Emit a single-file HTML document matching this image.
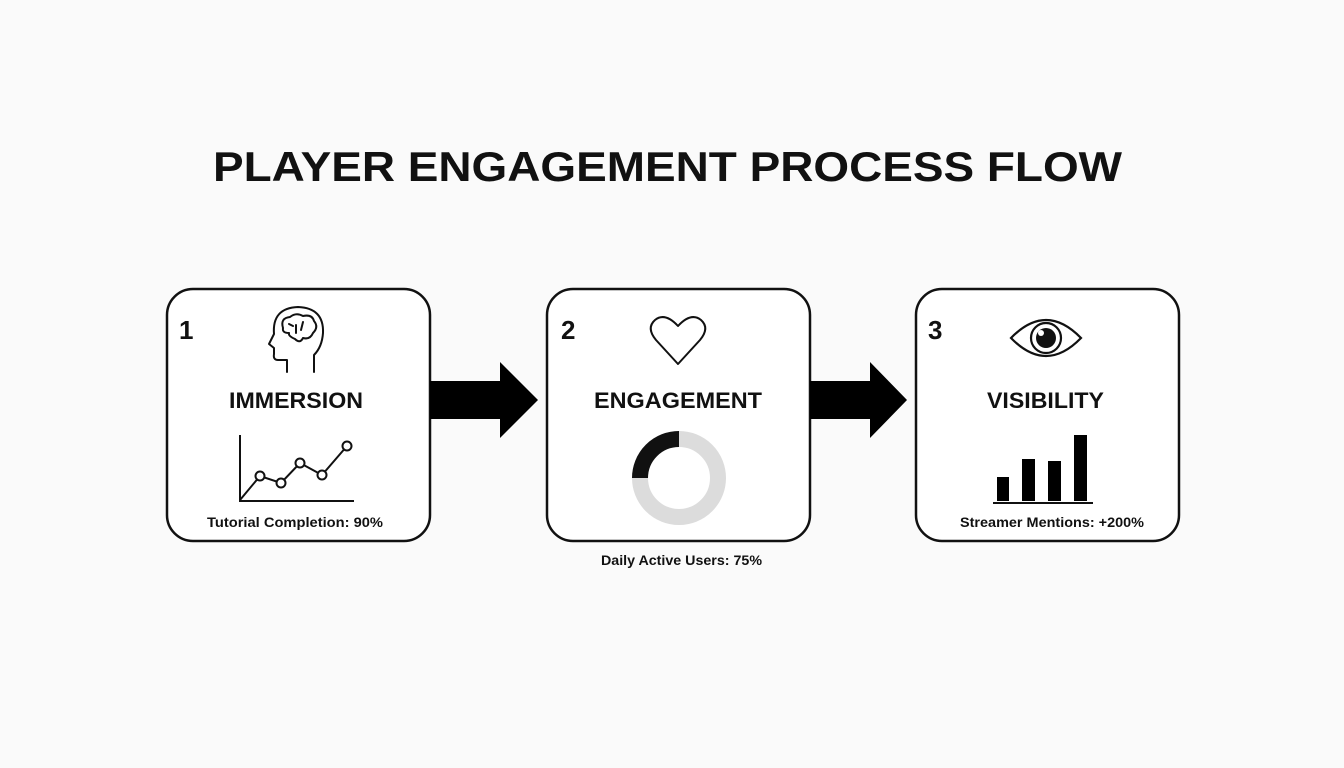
<!DOCTYPE html>
<html><head><meta charset="utf-8"><style>
html,body{margin:0;padding:0;background:#fafafa;}
svg{display:block}
text{font-family:"Liberation Sans",Arial,sans-serif;font-weight:bold;fill:#111}
</style></head><body>
<svg width="1344" height="768" viewBox="0 0 1344 768" xmlns="http://www.w3.org/2000/svg">
<rect width="1344" height="768" fill="#fafafa"/>
<text x="213" y="181" font-size="42" textLength="909" lengthAdjust="spacingAndGlyphs">PLAYER ENGAGEMENT PROCESS FLOW</text>

<g fill="#fff" stroke="#111" stroke-width="2.5">
<rect x="167" y="289" width="263" height="252" rx="26"/>
<rect x="547" y="289" width="263" height="252" rx="26"/>
<rect x="916" y="289" width="263" height="252" rx="26"/>
</g>

<polygon points="430,381 500,381 500,362 538,400 500,438 500,419 430,419" fill="#000"/>
<polygon points="810,381 870,381 870,362 907,400 870,438 870,419 810,419" fill="#000"/>

<text x="179" y="339" font-size="26">1</text>
<text x="561" y="339" font-size="26">2</text>
<text x="928" y="339" font-size="26">3</text>

<text x="229" y="408" font-size="22" textLength="134" lengthAdjust="spacingAndGlyphs">IMMERSION</text>
<text x="594" y="408" font-size="22" textLength="168" lengthAdjust="spacingAndGlyphs">ENGAGEMENT</text>
<text x="987" y="408" font-size="22" textLength="117" lengthAdjust="spacingAndGlyphs">VISIBILITY</text>

<g fill="none" stroke="#111" stroke-width="2" stroke-linejoin="round" stroke-linecap="round">
<path d="M287,372 L287,360 L278,360 Q273,360 274,354 L274,348 L269,344 L274,334 Q272,308 298,307 Q324,308 323,333 Q322,347 314,355 L314,372"/>
<path d="M283,328 Q280,318 290,317 Q296,312 303,316 Q312,314 314,321 Q319,327 313,333 Q310,340 303,338 Q300,344 295,339 Q288,336 289,333 Q282,333 283,328 Z"/>
<path d="M296,325 L296,333 M303,322 L301,330 M289,324 L293,326"/>
</g>

<g stroke="#111" stroke-width="2" fill="none">
<path d="M240,435 L240,501 L354,501"/>
<polyline points="240,500 260,476 281,483 300,463 322,475 347,446"/>
</g>
<g fill="#fff" stroke="#111" stroke-width="2">
<circle cx="260" cy="476" r="4.5"/><circle cx="281" cy="483" r="4.5"/><circle cx="300" cy="463" r="4.5"/><circle cx="322" cy="475" r="4.5"/><circle cx="347" cy="446" r="4.5"/>
</g>
<text x="207" y="527" font-size="13.5" textLength="176" lengthAdjust="spacingAndGlyphs">Tutorial Completion: 90%</text>

<path d="M678,364 L656,340 Q646,328 655,320 Q665,312 678,326 Q691,312 701,320 Q710,328 700,340 Z" fill="none" stroke="#111" stroke-width="2" stroke-linejoin="round"/>

<circle cx="679" cy="478" r="39" fill="none" stroke="#dcdcdc" stroke-width="16"/>
<path d="M679,439 A39,39 0 0 0 640,478" fill="none" stroke="#111" stroke-width="16"/>
<text x="601" y="565" font-size="13.5" textLength="161" lengthAdjust="spacingAndGlyphs">Daily Active Users: 75%</text>

<path d="M1011,338 Q1046,302 1081,338 Q1046,374 1011,338 Z" fill="none" stroke="#111" stroke-width="2.2"/>
<circle cx="1046" cy="338" r="15" fill="none" stroke="#111" stroke-width="2.2"/>
<circle cx="1046" cy="338" r="10" fill="#111"/>
<circle cx="1041" cy="333" r="3" fill="#fff"/>

<g fill="#000">
<rect x="997" y="477" width="12" height="24"/>
<rect x="1022" y="459" width="13" height="42"/>
<rect x="1048" y="461" width="13" height="40"/>
<rect x="1074" y="435" width="13" height="66"/>
</g>
<line x1="993" y1="503" x2="1093" y2="503" stroke="#111" stroke-width="2"/>
<text x="960" y="527" font-size="13.5" textLength="184" lengthAdjust="spacingAndGlyphs">Streamer Mentions: +200%</text>
</svg>
</body></html>
